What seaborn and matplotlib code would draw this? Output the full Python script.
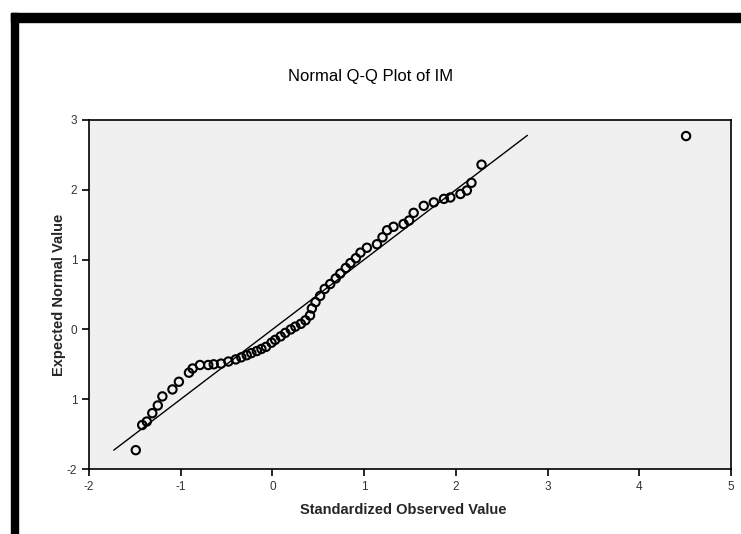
import numpy as np
import pandas as pd
import seaborn as sns
import matplotlib.pyplot as plt
from matplotlib.patches import Rectangle

# observed (standardized) vs expected normal values
observed = [-1.49, -1.42, -1.37, -1.31, -1.25, -1.20, -1.09, -1.02, -0.91, -0.87,
            -0.79, -0.70, -0.64, -0.56, -0.48, -0.40, -0.34, -0.28, -0.23, -0.17,
            -0.12, -0.07, -0.01, 0.03, 0.09, 0.14, 0.20, 0.25, 0.31, 0.36,
            0.41, 0.43, 0.47, 0.52, 0.57, 0.63, 0.69, 0.74, 0.80, 0.85,
            0.91, 0.96, 1.03, 1.14, 1.20, 1.25, 1.32, 1.43, 1.49, 1.54,
            1.65, 1.76, 1.87, 1.94, 2.05, 2.12, 2.17, 2.28, 4.51]
expected = [-1.73, -1.37, -1.32, -1.20, -1.09, -0.96, -0.86, -0.75, -0.62, -0.56,
            -0.51, -0.51, -0.50, -0.49, -0.46, -0.43, -0.40, -0.37, -0.34, -0.31,
            -0.28, -0.25, -0.19, -0.15, -0.10, -0.05, 0.00, 0.04, 0.08, 0.13,
            0.20, 0.30, 0.39, 0.48, 0.58, 0.65, 0.73, 0.80, 0.88, 0.95,
            1.02, 1.10, 1.17, 1.22, 1.32, 1.42, 1.47, 1.51, 1.56, 1.67,
            1.77, 1.82, 1.87, 1.89, 1.94, 1.99, 2.10, 2.36, 2.77]
ref_line = [-1.73, 2.78]

x_ticks = [-2, -1, 0, 1, 2, 3, 4, 5]
y_ticks = [-2, -1, 0, 1, 2, 3]
y_tick_labels = ["-2", "1", "0", "1", "2", "3"]

df = pd.DataFrame({"observed": observed, "expected": expected})

sns.set_style("ticks")
plt.rcParams['font.family'] = ['Liberation Sans', 'DejaVu Sans']
plt.rcParams['axes.unicode_minus'] = False

fig = plt.figure(figsize=(7.41, 5.34), dpi=100)
ax = fig.add_axes([0.1201, 0.1217, 0.8664, 0.6536])
ax.set_facecolor("#f0f0f0")

# black frame bars at top / left
fig.patches.append(Rectangle((11 / 741, 0), 7 / 741, 1 - 13 / 534, transform=fig.transFigure,
                             color="black", zorder=0))
fig.patches.append(Rectangle((11 / 741, 1 - 22 / 534), 1, 9 / 534, transform=fig.transFigure,
                             color="black", zorder=0))

sns.lineplot(x=ref_line, y=ref_line, ax=ax, color="black", lw=1.0)
sns.scatterplot(data=df, x="observed", y="expected", ax=ax, s=36, marker="o",
                facecolor="none", edgecolor="black", linewidth=1.5, zorder=3)

ax.set_xlim(-2, 5)
ax.set_ylim(-2, 3)
ax.set_xticks(x_ticks)
ax.set_yticks(y_ticks)
ax.set_yticklabels(y_tick_labels)
ax.tick_params(labelsize=8.5, colors="black", labelcolor="#333333", length=5, width=1.2)
for s in ax.spines.values():
    s.set_visible(True)
    s.set_color("black")
    s.set_linewidth(1.2)

ax.set_xlabel("Standardized Observed Value", fontsize=10.5, fontweight="bold", labelpad=8)
ax.set_ylabel("Expected Normal Value", fontsize=10.5, fontweight="bold", labelpad=0)
ax.xaxis.set_label_coords(0.49, -0.098)
ax.yaxis.set_label_coords(-0.036, 0.5)
fig.text(0.5, 1 - 77 / 534, "Normal Q-Q Plot of IM", ha="center", va="center",
         fontsize=12, color="black", fontweight="medium")

fig.savefig("out.png", dpi=100, facecolor="white")
